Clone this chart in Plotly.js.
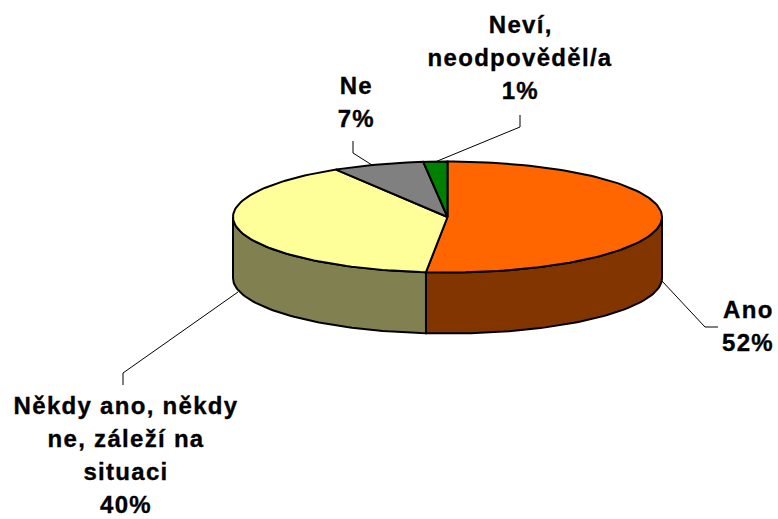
<!DOCTYPE html>
<html>
<head>
<meta charset="utf-8">
<script src="https://cdn.plot.ly/plotly-3.0.1.min.js"></script>
<style>
html,body{margin:0;padding:0;background:#fff}
#chart{width:778px;height:519px}
#chart .annotation-text{letter-spacing:1.3px;stroke:#000;stroke-width:.35px}
</style>
</head>
<body>
<div id="chart"></div>
<script>
// Data (slice shares; printed labels are the source's rounded ones)
const categories = ["Ano", "Někdy ano, někdy ne, záleží na situaci", "Ne", "Neví, neodpověděl/a"];
const shares = [51.6, 39.7, 6.9, 1.8];
const topColors = ["#FF6600", "#FFFF99", "#808080", "#008000"];
const sideColors = ["#833500", "#808050", "#404040", "#004000"];
const labelLines = [
  ["Ano", "52%"],
  ["Někdy ano, někdy", "ne, záleží na", "situaci", "40%"],
  ["Ne", "7%"],
  ["Neví,", "neodpověděl/a", "1%"]
];

// Projection of the tilted disc onto the page
const pie = {cx: 447.5, cy: 217, rx: 214.5, ry: 55.5, depth: 61};
const labelAnchor = [[748, 309], [126, 405], [356, 85], [520, 24]];
const labelStep = 33.3;
const leaderX = [[662, 705, 718], [238, 123, 123], [372, 353, 353], [435, 520, 520]];
const leaderY = [[281, 327, 327], [292, 373, 385], [165, 153, 141], [162, 127, 115]];

const px = d => pie.cx + pie.rx * Math.sin(d * Math.PI / 180);
const py = (d, dz) => pie.cy - pie.ry * Math.cos(d * Math.PI / 180) + (dz || 0);
function arc(a, b) {
  const out = [], n = Math.max(2, Math.ceil((b - a) / 1.5));
  for (let i = 0; i <= n; i++) out.push(a + (b - a) * i / n);
  return out;
}

const total = shares.reduce((s, v) => s + v, 0);
let running = 0;
const spans = shares.map(v => {
  const a = running / total * 360;
  running += v;
  return [a, running / total * 360];
});

const traces = [];
const edge = {color: "#000000", width: 2};

// Side walls: only the front half of the rim (90 to 270 degrees) is visible
spans.forEach((s, i) => {
  const a = Math.max(s[0], 90), b = Math.min(s[1], 270);
  if (b <= a) return;
  const t = arc(a, b), r = t.slice().reverse();
  traces.push({
    type: "scatter", mode: "lines", fill: "toself", fillcolor: sideColors[i], line: edge,
    x: t.map(px).concat(r.map(px), [px(a)]),
    y: t.map(d => py(d)).concat(r.map(d => py(d, pie.depth)), [py(a)]),
    name: categories[i], hoverinfo: "name"
  });
});

// Top faces
spans.forEach((s, i) => {
  const t = arc(s[0], s[1]);
  traces.push({
    type: "scatter", mode: "lines", fill: "toself", fillcolor: topColors[i], line: edge,
    x: [pie.cx].concat(t.map(px), [pie.cx]),
    y: [pie.cy].concat(t.map(d => py(d)), [pie.cy]),
    name: categories[i], hoverinfo: "name"
  });
});

// Leader lines
leaderX.forEach((xs, i) => {
  traces.push({
    type: "scatter", mode: "lines", x: xs, y: leaderY[i],
    line: {color: "#000000", width: 1}, hoverinfo: "skip"
  });
});

// Labels, one annotation per printed line
const annotations = [];
labelLines.forEach((lines, i) => {
  lines.forEach((text, k) => {
    annotations.push({
      x: labelAnchor[i][0], y: labelAnchor[i][1] + k * labelStep,
      xref: "x", yref: "y", xanchor: "center", yanchor: "middle",
      text: "<b>" + text + "</b>", showarrow: false,
      font: {family: "Liberation Sans, Arial, sans-serif", size: 24, color: "#000000"}
    });
  });
});

Plotly.newPlot("chart", traces, {
  width: 778, height: 519,
  margin: {l: 0, r: 0, t: 0, b: 0},
  paper_bgcolor: "#ffffff", plot_bgcolor: "#ffffff",
  showlegend: false,
  xaxis: {range: [0, 778], visible: false, fixedrange: true},
  yaxis: {range: [519, 0], visible: false, fixedrange: true},
  annotations: annotations
}, {displayModeBar: false, responsive: false});
</script>
</body>
</html>
